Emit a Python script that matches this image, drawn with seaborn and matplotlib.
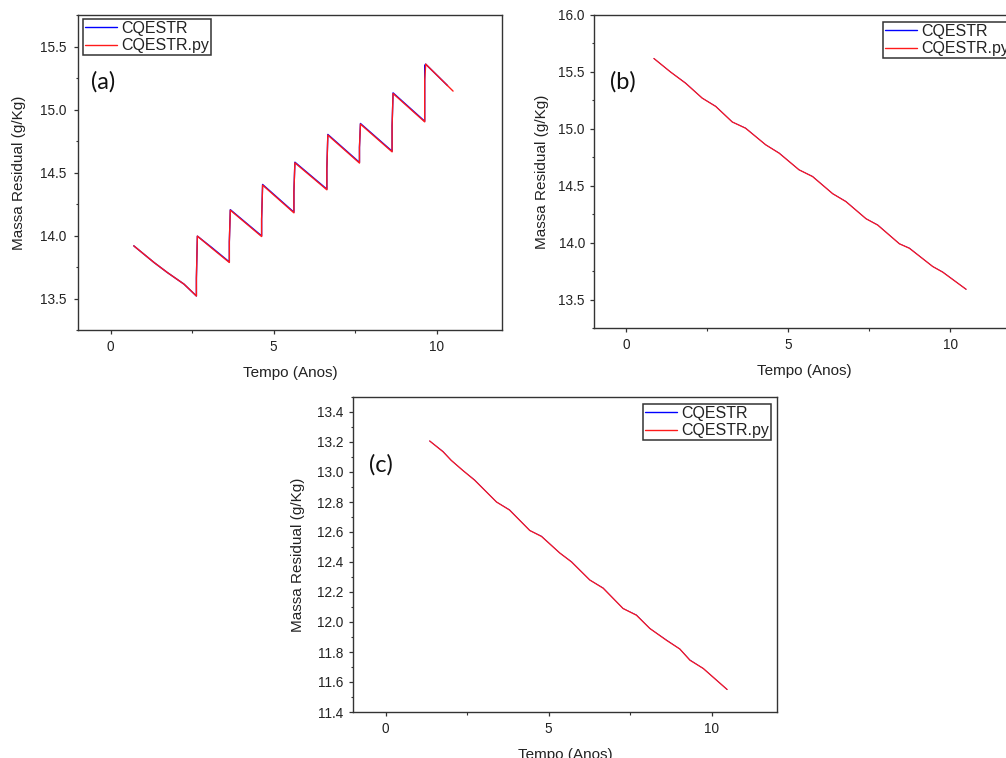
import matplotlib
matplotlib.use("Agg")
import matplotlib.pyplot as plt
from matplotlib.ticker import MultipleLocator, FormatStrFormatter
import pandas as pd
import seaborn as sns

sns.set_style("ticks")
plt.rcParams['font.family'] = ['Liberation Sans', 'DejaVu Sans']

# --- data ---
# (a) sawtooth
a_py_x = [0.71, 1.33, 1.74, 2.25, 2.63, 2.63, 2.66, 3.10, 3.64, 3.64, 3.67,
          4.63, 4.63, 4.66, 5.62, 5.62, 5.65, 6.63, 6.63, 6.66, 7.63, 7.63, 7.66,
          8.63, 8.63, 8.66, 9.63, 9.63, 9.66, 10.50]
a_py_y = [13.918, 13.786, 13.706, 13.614, 13.520, 13.660, 13.995, 13.900, 13.786,
          13.950, 14.201, 13.992, 14.130, 14.400, 14.180, 14.350, 14.577, 14.363,
          14.530, 14.797, 14.575, 14.700, 14.884, 14.664, 14.870, 15.127, 14.902,
          15.230, 15.360, 15.146]
a_cq_x = [0.71, 1.33, 1.74, 2.25, 2.63, 2.63, 2.66, 3.10, 3.64, 3.64, 3.67,
          4.63, 4.63, 4.66, 5.62, 5.62, 5.65, 6.63, 6.63, 6.66, 7.63, 7.63, 7.66,
          8.63, 8.63, 8.66, 9.63, 9.63, 9.66, 10.33]
a_cq_y = [13.918, 13.786, 13.706, 13.614, 13.520, 13.660, 13.995, 13.905, 13.790,
          13.950, 14.205, 13.997, 14.130, 14.405, 14.185, 14.350, 14.582, 14.368,
          14.530, 14.802, 14.580, 14.700, 14.889, 14.669, 14.870, 15.132, 14.907,
          15.350, 15.360, 15.190]

# (b)
b_x = [0.85, 1.36, 1.83, 2.34, 2.76, 3.27, 3.68, 4.30, 4.72, 5.33, 5.75, 6.37,
       6.78, 7.40, 7.76, 8.43, 8.74, 9.46, 9.77, 10.49]
b_py_y = [15.618, 15.500, 15.400, 15.270, 15.196, 15.060, 15.005, 14.860, 14.785,
          14.640, 14.580, 14.430, 14.360, 14.210, 14.154, 13.990, 13.950, 13.790,
          13.740, 13.590]
b_cq_y = [15.618, 15.500, 15.402, 15.270, 15.198, 15.060, 15.007, 14.860, 14.787,
          14.640, 14.582, 14.430, 14.362, 14.210, 14.156, 13.990, 13.952, 13.790,
          13.742, 13.590]

# (c)
c_x = [1.35, 1.76, 2.01, 2.37, 2.73, 3.40, 3.80, 4.42, 4.78, 5.34, 5.70, 6.26,
       6.67, 7.28, 7.69, 8.10, 8.61, 9.02, 9.33, 9.74, 10.47]
c_py_y = [13.207, 13.135, 13.078, 13.010, 12.945, 12.800, 12.746, 12.610, 12.570,
          12.460, 12.400, 12.280, 12.225, 12.090, 12.045, 11.957, 11.878, 11.820,
          11.745, 11.690, 11.550]
c_cq_y = [13.207, 13.137, 13.078, 13.010, 12.947, 12.800, 12.748, 12.610, 12.572,
          12.460, 12.402, 12.280, 12.227, 12.090, 12.047, 11.957, 11.880, 11.820,
          11.747, 11.690, 11.550]

W, H = 1006, 758
fig = plt.figure(figsize=(W / 100, H / 100), dpi=100)


def px_box(l, t, r, b):
    return [l / W, 1 - b / H, (r - l) / W, (b - t) / H]


def style_axes(ax, ylim, ymaj, ymin, ypad, ylabpad, xlabpad):
    ax.set_xlim(-1, 12)
    ax.set_ylim(*ylim)
    ax.xaxis.set_major_locator(MultipleLocator(5))
    ax.xaxis.set_minor_locator(MultipleLocator(2.5))
    ax.yaxis.set_major_locator(MultipleLocator(ymaj))
    ax.yaxis.set_minor_locator(MultipleLocator(ymin))
    ax.yaxis.set_major_formatter(FormatStrFormatter('%.1f'))
    ax.tick_params(which='major', direction='out', length=3, width=0.9,
                   color='#333333', labelsize=9.8, labelcolor='#222222')
    ax.tick_params(which='minor', direction='out', length=1.8, width=0.8, color='#333333')
    ax.tick_params(axis='x', pad=4.5)
    ax.tick_params(axis='y', pad=ypad)
    for s in ax.spines.values():
        s.set_visible(True)
        s.set_color('#333333')
        s.set_linewidth(1.0)
    ax.set_xlabel('Tempo (Anos)', fontsize=11, color='#222222', labelpad=xlabpad)
    ax.set_ylabel('Massa Residual (g/Kg)', fontsize=11, color='#222222', labelpad=ylabpad)


def draw(ax, xb, yb, xr, yr, lwb, lwr):
    sns.lineplot(x=xb, y=yb, ax=ax, color='#0000ff', linewidth=lwb, label='CQESTR',
                 sort=False, estimator=None)
    sns.lineplot(x=xr, y=yr, ax=ax, color='#ff1a1a', linewidth=lwr, label='CQESTR.py',
                 sort=False, estimator=None)


def add_legend(ax, fx, fy):
    leg = ax.legend(loc='upper left', bbox_to_anchor=(fx / W, 1 - fy / H),
                    bbox_transform=fig.transFigure, borderaxespad=0,
                    fontsize=11.5, handlelength=2.0, handletextpad=0.3,
                    borderpad=0.1, labelspacing=0.18, fancybox=False,
                    framealpha=1, edgecolor='#333333')
    leg.get_frame().set_linewidth(1.1)
    for line in leg.get_lines():
        line.set_linewidth(1.0)
    for t in leg.get_texts():
        t.set_color('#222222')


ax_a = fig.add_axes(px_box(78, 15, 502, 330))
draw(ax_a, a_cq_x, a_cq_y, a_py_x, a_py_y, 1.0, 1.0)
style_axes(ax_a, (13.25, 15.75), 0.5, 0.25, 5.5, 10, 8.5)
add_legend(ax_a, 83, 19)

ax_b = fig.add_axes(px_box(594, 15, 1015, 328))
draw(ax_b, b_x, b_cq_y, b_x, b_py_y, 0.6, 0.9)
style_axes(ax_b, (13.25, 16.0), 0.5, 0.25, 3.6, 7, 8)
add_legend(ax_b, 883, 22)

ax_c = fig.add_axes(px_box(353, 397, 777, 712))
draw(ax_c, c_x, c_cq_y, c_x, c_py_y, 0.6, 0.9)
style_axes(ax_c, (11.4, 13.5), 0.2, 0.1, 3.8, 9, 8.5)
add_legend(ax_c, 643, 404)

for lab, x, y in [('(a)', 103, 82), ('(b)', 623, 82), ('(c)', 381, 465)]:
    fig.text(x / W, 1 - y / H, lab, fontsize=17, family=['Lato', 'DejaVu Sans'],
             ha='center', va='center', color='#111111')

fig.savefig('out.png', dpi=100)
